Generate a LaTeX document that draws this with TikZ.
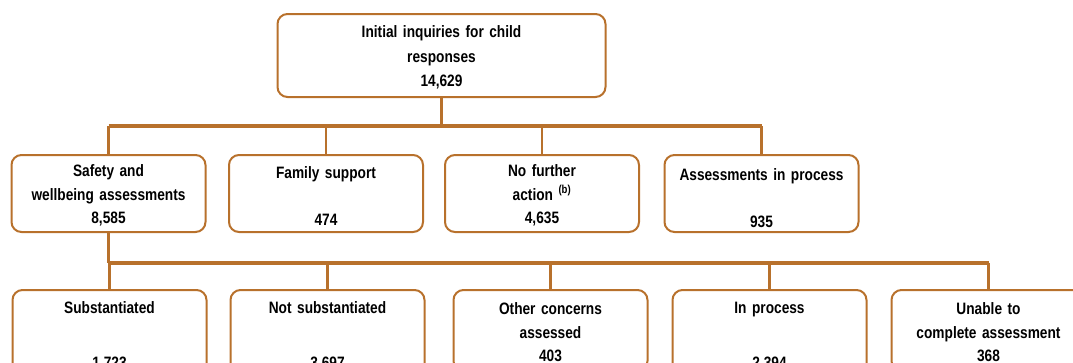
\documentclass[tikz,border=0pt]{standalone}
\usepackage{fontspec}
\setmainfont{Liberation Sans}[FakeStretch=0.83]
\definecolor{linebrown}{RGB}{184,113,44}
\tikzset{
  box/.style={draw=linebrown, line width=2pt, rounded corners=10pt, fill=white,
    align=center, inner sep=0pt, text width=186pt,
    minimum width=194pt, minimum height=77pt,
    execute at begin node={\rule{0pt}{16pt}},
    font=\bfseries\fontsize{16.5}{23.5}\selectfont},
  rootbox/.style={box, text width=320pt, minimum width=328pt, minimum height=83pt,
    font=\bfseries\fontsize{16.5}{24.5}\selectfont},
  lowbox/.style={box, minimum height=81pt},
  tallbox/.style={box, minimum height=89pt},
  bus/.style={draw=linebrown, line width=3.4pt},
  drop/.style={draw=linebrown, line width=2.8pt}
}
\begin{document}
\begin{tikzpicture}
      \useasboundingbox (0,0) rectangle (1073pt,-362pt);
      \clip (0,0) rectangle (1073pt,-362pt);
      % top
      \node[rootbox] (inquiries) at (441.5pt,-55.5pt) {Initial inquiries for child\\ responses\\ 14,629};
      % first row
      \node[box] (safety) at (108.5pt,-193.5pt) {Safety and\\ wellbeing assessments\\ 8,585};
      \node[box, execute at begin node={\rule{0pt}{11pt}}] (famsupp) at (326pt,-193.5pt) {Family support\\ ~\\ 474};
      \node[box] (nofurther) at (542pt,-193.5pt) {No further\\ action \textsuperscript{(b)}\\ 4,635};
      \node[box, execute at begin node={\rule{0pt}{22pt}}] (assessproc) at (761.5pt,-193.5pt) {Assessments in process\\ ~\\ 935};
      % second row
      \node[tallbox] (subst) at (109.5pt,-334.5pt) {Substantiated\\ ~\\[8pt] 1,723};
      \node[tallbox] (notsubst) at (327.5pt,-334.5pt) {Not substantiated\\ ~\\[8pt] 3,697};
      \node[lowbox] (otherconc) at (550.5pt,-330.5pt) {Other concerns\\ assessed\\ 403};
      \node[tallbox] (inproc) at (769.5pt,-334.5pt) {In process\\ ~\\[8pt] 2,394};
      \node[lowbox] (unable) at (988.5pt,-330.5pt) {Unable to\\ complete assessment\\ 368};
      % connectors
      \draw[bus] (inquiries.south) -- ++(0,-28pt) coordinate (busone);
      \draw[bus] (safety.north |- busone) -- (assessproc.north |- busone);
      \foreach \n in {safety,famsupp,nofurther,assessproc}
        \draw[drop] (\n.north |- busone) -- (\n.north);
      \draw[bus] (safety.south) -- ++(0,-30pt) coordinate (bustwo);
      \draw[bus] (bustwo) -- (unable.north |- bustwo);
      \foreach \n in {subst,notsubst,otherconc,inproc,unable}
        \draw[drop] (\n.north |- bustwo) -- (\n.north);
\end{tikzpicture}
\end{document}
